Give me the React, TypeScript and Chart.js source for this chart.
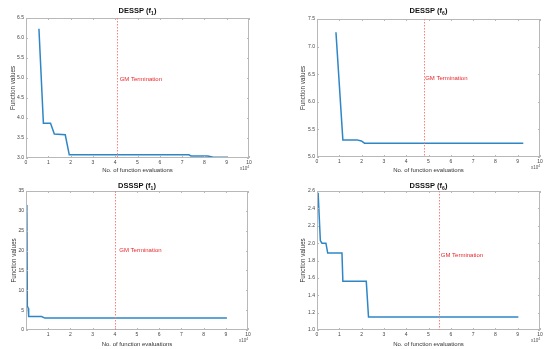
import React, { useEffect, useRef } from "react";
import { Chart, registerables } from "chart.js";
Chart.register(...registerables);

const FONT = '"Liberation Sans", Arial, Helvetica, sans-serif';

// Panel titles
const titles = ["DESSP (f", "DESSP (f", "DSSSP (f", "DSSSP (f"];
const titleSubs = ["1", "6", "1", "6"];

// Top-left: DESSP (f1) — x in units of 10^4
const tlX = [0.58, 0.78, 1.1, 1.27, 1.76, 1.94, 7.3, 7.4, 8.15, 8.4, 9.03];
const tlY = [6.23, 3.87, 3.87, 3.6, 3.58, 3.08, 3.08, 3.05, 3.05, 3.02, 3.02];

// Top-right: DESSP (f6)
const trX = [0.85, 1.16, 1.79, 1.99, 2.13, 9.25];
const trY = [7.26, 5.31, 5.31, 5.29, 5.25, 5.25];

// Bottom-left: DSSSP (f1)
const blX = [0.02, 0.04, 0.06, 0.1, 0.12, 0.7, 0.85, 9.05];
const blY = [31.5, 30, 6, 5.5, 3.4, 3.4, 3.0, 3.0];

// Bottom-right: DSSSP (f6)
const brX = [0.05, 0.15, 0.22, 0.4, 0.48, 1.12, 1.16, 2.21, 2.31, 9.03];
const brY = [2.58, 2.03, 2.0, 2.0, 1.885, 1.885, 1.56, 1.56, 1.15, 1.15];

// Axis ranges
const yMins = [3, 5, 0, 1];
const yMaxs = [6.5, 7.5, 35, 2.6];
const ySteps = [0.5, 0.5, 5, 0.2];
const xMin = 0;
const xMax = 10;
const xStep = 1;

// GM termination positions and label anchors
const termX = [4.09, 4.78, 4.0, 5.45];
const labelX = [4.2, 4.85, 4.2, 5.55];
const labelY = [4.97, 6.42, 20, 1.86];

const xsAll = [tlX, trX, blX, brX];
const ysAll = [tlY, trY, blY, brY];

// layout (positions / sizes)
const panels = [
  { left: 0, top: 0, w: 275, h: 175, pl: 26, pt: 18, pr: 249, pb: 158, yt: 9, hideZero: false },
  { left: 275, top: 0, w: 275, h: 175, pl: 42, pt: 19, pr: 265, pb: 157, yt: 24, hideZero: false },
  { left: 0, top: 175, w: 275, h: 174, pl: 26, pt: 16, pr: 248, pb: 155, yt: 10, hideZero: true },
  { left: 275, top: 175, w: 275, h: 174, pl: 42, pt: 16, pr: 265, pb: 155, yt: 24, hideZero: false },
];

function Panel({ idx }: { idx: number }) {
  const ref = useRef<HTMLCanvasElement | null>(null);
  const p = panels[idx];
  useEffect(() => {
    if (!ref.current) return;
    const data = xsAll[idx].map((x, i) => ({ x, y: ysAll[idx][i] }));
    const deco = {
      id: "deco" + idx,
      afterDraw(chart: any) {
        const ctx = chart.ctx;
        const a = chart.chartArea;
        const xs = chart.scales.x;
        const ys = chart.scales.y;
        ctx.save();
        // frame
        ctx.strokeStyle = "#b8b8b8";
        ctx.lineWidth = 1;
        ctx.strokeRect(a.left + 0.5, a.top + 0.5, a.right - a.left - 1, a.bottom - a.top - 1);
        // inside ticks
        ctx.beginPath();
        xs.ticks.forEach((t: any) => {
          const px = Math.round(xs.getPixelForValue(t.value)) + 0.5;
          ctx.moveTo(px, a.bottom);
          ctx.lineTo(px, a.bottom - 2);
          ctx.moveTo(px, a.top);
          ctx.lineTo(px, a.top + 2);
        });
        ys.ticks.forEach((t: any) => {
          const py = Math.round(ys.getPixelForValue(t.value)) + 0.5;
          ctx.moveTo(a.left, py);
          ctx.lineTo(a.left + 2, py);
          ctx.moveTo(a.right, py);
          ctx.lineTo(a.right - 2, py);
        });
        ctx.stroke();
        // termination line
        const tx = Math.round(xs.getPixelForValue(termX[idx])) + 0.5;
        ctx.strokeStyle = "#ff7f7f";
        ctx.lineWidth = 1;
        ctx.setLineDash([1.5, 1.5]);
        ctx.beginPath();
        ctx.moveTo(tx, a.top);
        ctx.lineTo(tx, a.bottom);
        ctx.stroke();
        ctx.setLineDash([]);
        // label
        ctx.fillStyle = "#e8262a";
        ctx.font = "6px " + FONT;
        ctx.textAlign = "left";
        ctx.textBaseline = "middle";
        ctx.fillText("GM Termination", xs.getPixelForValue(labelX[idx]), ys.getPixelForValue(labelY[idx]));
        // title with subscript
        const cx = (a.left + a.right) / 2;
        ctx.fillStyle = "#111";
        const big = "bold 7.5px " + FONT;
        const small = "bold 5px " + FONT;
        ctx.font = big;
        const main = titles[idx];
        const sub = titleSubs[idx];
        const wMain = ctx.measureText(main).width;
        ctx.font = small;
        const wSub = ctx.measureText(sub).width;
        ctx.font = big;
        const wClose = ctx.measureText(")").width;
        const total = wMain + wSub + wClose;
        const x0 = cx - total / 2;
        const ty = 11;
        ctx.fillText(main, x0, ty);
        ctx.font = small;
        ctx.fillText(sub, x0 + wMain, ty + 2.5);
        ctx.font = big;
        ctx.fillText(")", x0 + wMain + wSub, ty);
        // exponent
        ctx.fillStyle = "#555";
        ctx.font = "4.5px " + FONT;
        ctx.textAlign = "left";
        const ex = a.right - 9;
        const ey = a.bottom + 11;
        ctx.fillText("x10", ex, ey);
        const w10 = ctx.measureText("x10").width;
        ctx.font = "3.5px " + FONT;
        ctx.fillText("4", ex + w10, ey - 2);
        ctx.restore();
      },
    };
    const chart = new Chart(ref.current, {
      type: "line",
      data: {
        datasets: [
          {
            data,
            borderColor: "#2f86c6",
            borderWidth: 1.5,
            pointRadius: 0,
            fill: false,
            tension: 0,
          },
        ],
      },
      options: {
        animation: false,
        responsive: false,
        devicePixelRatio: 1,
        layout: { padding: { left: 0, top: p.pt, right: p.w - p.pr, bottom: 0 } },
        plugins: { legend: { display: false }, tooltip: { enabled: false }, title: { display: false } },
        scales: {
          x: {
            type: "linear",
            min: xMin,
            max: xMax,
            ticks: {
              stepSize: xStep,
              font: { size: 5, family: FONT },
              color: "#444",
              padding: 2,
              maxRotation: 0,
              callback: (v: any) => (p.hideZero && v === 0 ? "" : String(v)),
            },
            grid: { display: false, drawTicks: false, tickLength: 0 },
            border: { display: false },
            title: {
              display: true,
              text: "No. of function evaluations",
              font: { size: 6, family: FONT },
              color: "#333",
              padding: { top: 0, bottom: 1 },
            },
            afterFit: (s: any) => {
              s.height = p.h - p.pb;
            },
          },
          y: {
            type: "linear",
            min: yMins[idx],
            max: yMaxs[idx],
            ticks: {
              stepSize: ySteps[idx],
              font: { size: 5, family: FONT },
              color: "#444",
              padding: 2,
            },
            grid: { display: false, drawTicks: false, tickLength: 0 },
            border: { display: false },
            title: {
              display: true,
              text: "Function values",
              font: { size: 6.3, family: FONT },
              color: "#333",
              padding: { top: p.yt, bottom: 0 },
            },
            afterFit: (s: any) => {
              s.width = p.pl;
            },
          },
        },
      },
      plugins: [deco],
    });
    return () => chart.destroy();
  }, [idx]);
  return (
    <canvas
      ref={ref}
      width={p.w}
      height={p.h}
      style={{ position: "absolute", left: p.left, top: p.top, width: p.w, height: p.h }}
    />
  );
}

export default function App() {
  return (
    <div style={{ position: "absolute", left: 0, top: 0, width: 550, height: 349, background: "#fff" }}>
      {[0, 1, 2, 3].map((i) => (
        <Panel key={i} idx={i} />
      ))}
    </div>
  );
}
